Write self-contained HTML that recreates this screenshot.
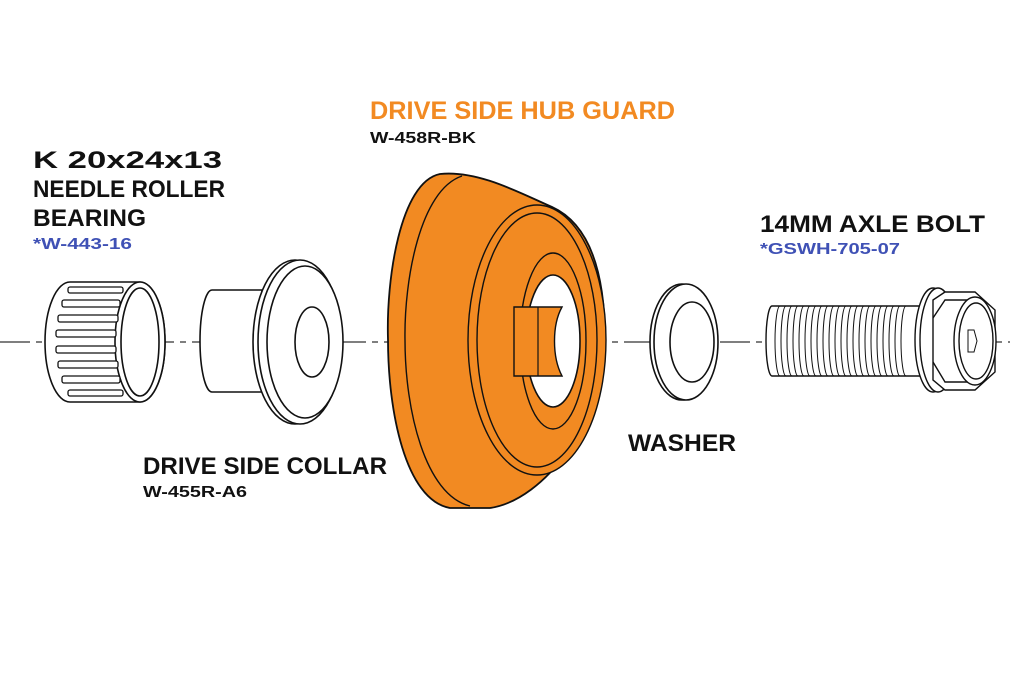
<!DOCTYPE html>
<html><head><meta charset="utf-8"><style>
html,body{margin:0;padding:0;background:#fff;width:1024px;height:683px;overflow:hidden}
svg{display:block}
text{font-family:"Liberation Sans",sans-serif;font-weight:bold}
</style></head><body>
<svg width="1024" height="683" viewBox="0 0 1024 683" xmlns="http://www.w3.org/2000/svg">
<rect width="1024" height="683" fill="#fff"/>
<line x1="0" y1="342" x2="1010" y2="342" stroke="#333" stroke-width="1.2" stroke-dasharray="30,6,6,6"/>

<!-- Bearing -->
<g stroke="#111" stroke-width="1.6" fill="#fff">
<path d="M70,282 L140,282 A25,60 0 0 1 140,402 L70,402 A25,60 0 0 1 70,282 Z"/>
<ellipse cx="140" cy="342" rx="25" ry="60"/>
<ellipse cx="140" cy="342" rx="19" ry="54"/>
<g fill="#fff" stroke-width="1.3">
<rect x="68" y="287" width="55" height="6" rx="2"/>
<rect x="62" y="300" width="58" height="7" rx="2"/>
<rect x="58" y="315" width="60" height="7" rx="2"/>
<rect x="56" y="330" width="60" height="7" rx="2"/>
<rect x="56" y="346" width="60" height="7" rx="2"/>
<rect x="58" y="361" width="60" height="7" rx="2"/>
<rect x="62" y="376" width="58" height="7" rx="2"/>
<rect x="68" y="390" width="55" height="6" rx="2"/>
</g>
</g>

<!-- Collar -->
<g stroke="#111" stroke-width="1.6" fill="#fff">
<path d="M212,290 L262,290 L262,392 L212,392 A12,51 0 0 1 212,290Z"/>
<ellipse cx="295" cy="342" rx="42" ry="82"/>
<ellipse cx="300" cy="342" rx="42" ry="82"/>
<ellipse cx="305" cy="342" rx="38" ry="76"/>
<ellipse cx="312" cy="342" rx="17" ry="35"/>
</g>

<!-- Hub guard -->
<g stroke="#111" stroke-width="1.8" fill="#f28a22">
<path d="M440,174 C400,182 386,280 388,340 C388,410 405,500 450,508 L490,508 C545,500 604,420 605,340 C605,262 585,222 552,207 C520,193 478,170 440,174Z"/>
<path d="M462,176 C420,190 404,280 405,340 C405,410 425,495 470,506" fill="none" stroke-width="1.4"/>
<ellipse cx="537" cy="340" rx="69" ry="135" stroke-width="1.4"/>
<ellipse cx="537" cy="340" rx="60" ry="127" stroke-width="1.4"/>
<ellipse cx="553" cy="341" rx="33" ry="88" stroke-width="1.4"/>
<ellipse cx="553" cy="341" rx="27" ry="66" fill="#fff" stroke-width="1.6"/>
<path d="M514,307 L562,307 C552,325 552,357 562,376 L514,376 Z" stroke-width="1.4"/>
<line x1="538" y1="307" x2="538" y2="376" stroke-width="1.2"/>
</g>

<!-- Washer -->
<g stroke="#111" stroke-width="1.6" fill="#fff">
<ellipse cx="682" cy="342" rx="32" ry="58"/>
<ellipse cx="686" cy="342" rx="32" ry="58"/>
<ellipse cx="692" cy="342" rx="22" ry="40"/>
</g>

<!-- Bolt -->
<g stroke="#111" stroke-width="1.4" fill="#fff">
<path d="M772,306 L925,306 L925,376 L772,376 A6,35 0 0 1 772,306Z"/>
<g fill="none" stroke-width="1">
<path d="M780,306 a5,35 0 0 0 0,70 M786,306 a5,35 0 0 0 0,70 M792,306 a5,35 0 0 0 0,70 M798,306 a5,35 0 0 0 0,70 M804,306 a5,35 0 0 0 0,70 M810,306 a5,35 0 0 0 0,70 M816,306 a5,35 0 0 0 0,70 M822,306 a5,35 0 0 0 0,70 M828,306 a5,35 0 0 0 0,70 M834,306 a5,35 0 0 0 0,70 M840,306 a5,35 0 0 0 0,70 M846,306 a5,35 0 0 0 0,70 M852,306 a5,35 0 0 0 0,70 M858,306 a5,35 0 0 0 0,70 M864,306 a5,35 0 0 0 0,70 M870,306 a5,35 0 0 0 0,70 M876,306 a5,35 0 0 0 0,70 M882,306 a5,35 0 0 0 0,70 M888,306 a5,35 0 0 0 0,70 M894,306 a5,35 0 0 0 0,70 M900,306 a5,35 0 0 0 0,70 M906,306 a5,35 0 0 0 0,70"/>
</g>
<ellipse cx="933" cy="340" rx="18" ry="52"/>
<ellipse cx="938" cy="340" rx="18" ry="52"/>
<path d="M933,300 L945,292 L975,292 L995,310 L995,372 L975,390 L945,390 L933,380 Z"/>
<path d="M933,318 L945,300 L975,300 M933,362 L945,382 L975,382" fill="none"/>
<ellipse cx="975" cy="341" rx="21" ry="44"/>
<ellipse cx="976" cy="341" rx="17" ry="38"/>
<path d="M968,330 L974,330 L977,341 L974,352 L968,352 Z" fill="none" stroke-width="1"/>
</g>

<!-- Labels -->
<text x="370" y="119" font-size="25" fill="#f28a22" textLength="305" lengthAdjust="spacingAndGlyphs">DRIVE SIDE HUB GUARD</text>
<text x="370" y="143" font-size="16" fill="#111" textLength="106" lengthAdjust="spacingAndGlyphs">W-458R-BK</text>
<text x="33" y="168" font-size="24" fill="#111" textLength="189" lengthAdjust="spacingAndGlyphs">K 20x24x13</text>
<text x="33" y="197" font-size="24" fill="#111" textLength="192" lengthAdjust="spacingAndGlyphs">NEEDLE ROLLER</text>
<text x="33" y="226" font-size="24" fill="#111" textLength="113" lengthAdjust="spacingAndGlyphs">BEARING</text>
<text x="33" y="249" font-size="16" fill="#3f51b5" textLength="99" lengthAdjust="spacingAndGlyphs">*W-443-16</text>
<text x="760" y="232" font-size="24" fill="#111" textLength="225" lengthAdjust="spacingAndGlyphs">14MM AXLE BOLT</text>
<text x="760" y="254" font-size="16" fill="#3f51b5" textLength="140" lengthAdjust="spacingAndGlyphs">*GSWH-705-07</text>
<text x="628" y="451" font-size="24" fill="#111" textLength="108" lengthAdjust="spacingAndGlyphs">WASHER</text>
<text x="143" y="474" font-size="24" fill="#111" textLength="244" lengthAdjust="spacingAndGlyphs">DRIVE SIDE COLLAR</text>
<text x="143" y="497" font-size="16" fill="#111" textLength="104" lengthAdjust="spacingAndGlyphs">W-455R-A6</text>
</svg>
</body></html>
